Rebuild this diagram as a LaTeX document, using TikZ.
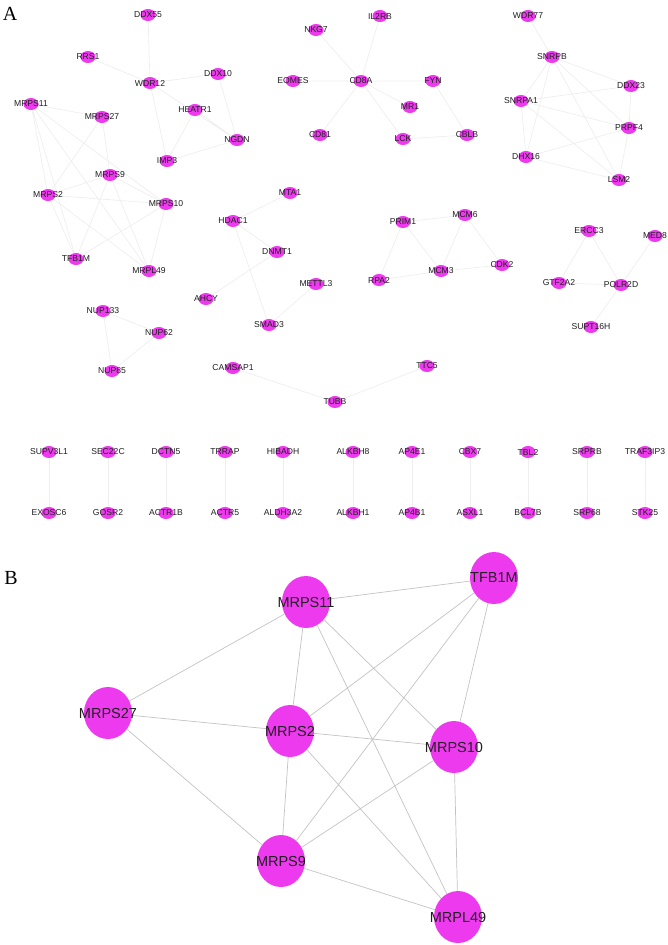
\documentclass[tikz,border=0pt]{standalone}
\usepackage{fontspec}
\setmainfont{Liberation Serif}
\setsansfont{Liberation Sans}
\usetikzlibrary{shapes.geometric,backgrounds}

\definecolor{genepink}{RGB}{238,58,238}
\definecolor{edgefaint}{RGB}{238,238,238}
\definecolor{edgegray}{RGB}{195,195,195}

\tikzset{
  gene/.style={ellipse, fill=genepink, minimum width=15pt, minimum height=12pt, inner sep=0pt,
    label={[font=\sffamily\fontsize{8.6}{9}\selectfont, text=black!88, inner sep=0pt]center:#1}},
  hub/.style={ellipse, fill=genepink, minimum width=48pt, minimum height=52pt, inner sep=0pt,
    label={[font=\sffamily\fontsize{14.5}{16}\selectfont, text=black!88, inner sep=0pt]center:#1}},
  link/.style={draw=edgefaint, line width=0.7pt},
  hublink/.style={draw=edgegray, line width=0.7pt},
  panel/.style={font=\fontsize{20}{22}\selectfont, inner sep=0pt}
}

\begin{document}
\begin{tikzpicture}[x=1pt, y=-1pt]
  \useasboundingbox (0,0) rectangle (667,945);

  % 1. 面板标签
  \node[panel] (labA) at (10,14) {A};
  \node[panel] (labB) at (11,578) {B};

  % 2. A: 核糖体组装模块
  \node[gene=DDX55]  (DDX55)  at (148,15)  {};
  \node[gene=RRS1]   (RRS1)   at (88,57)   {};
  \node[gene=WDR12]  (WDR12)  at (150,83)  {};
  \node[gene=DDX10]  (DDX10)  at (218,74)  {};
  \node[gene=HEATR1] (HEATR1) at (195,110) {};
  \node[gene=NGDN]   (NGDN)   at (237,140) {};
  \node[gene=IMP3]   (IMP3)   at (167,161) {};

  % 3. A: 线粒体核糖体模块
  \node[gene=MRPS11] (MRPS11) at (31,104)  {};
  \node[gene=MRPS27] (MRPS27) at (102,117) {};
  \node[gene=MRPS9]  (MRPS9)  at (110,175) {};
  \node[gene=MRPS2]  (MRPS2)  at (48,195)  {};
  \node[gene=MRPS10] (MRPS10) at (166,204) {};
  \node[gene=TFB1M]  (TFB1M)  at (76,259)  {};
  \node[gene=MRPL49] (MRPL49) at (149,271) {};

  % 4. A: CD8A 模块
  \node[gene=IL2RB] (IL2RB) at (380,16)  {};
  \node[gene=NKG7]  (NKG7)  at (316,30)  {};
  \node[gene=EOMES] (EOMES) at (293,81)  {};
  \node[gene=CD8A]  (CD8A)  at (361,81)  {};
  \node[gene=FYN]   (FYN)   at (433,81)  {};
  \node[gene=MR1]   (MR1)   at (410,107) {};
  \node[gene=CD81]  (CD81)  at (320,135) {};
  \node[gene=LCK]   (LCK)   at (403,139) {};
  \node[gene=CBLB]  (CBLB)  at (467,135) {};

  % 5. A: 剪接体模块
  \node[gene=WDR77]  (WDR77)  at (528,16)  {};
  \node[gene=SNRPB]  (SNRPB)  at (552,57)  {};
  \node[gene=DDX23]  (DDX23)  at (631,86)  {};
  \node[gene=SNRPA1] (SNRPA1) at (521,101) {};
  \node[gene=PRPF4]  (PRPF4)  at (629,128) {};
  \node[gene=DHX16]  (DHX16)  at (526,157) {};
  \node[gene=LSM2]   (LSM2)   at (619,180) {};

  % 6. A: HDAC1 / DNA 复制 / 转录 / NUP / TUBB 模块
  \node[gene=MTA1]   (MTA1)   at (290,193) {};
  \node[gene=HDAC1]  (HDAC1)  at (233,221) {};
  \node[gene=DNMT1]  (DNMT1)  at (277,252) {};
  \node[gene=METTL3] (METTL3) at (316,284) {};
  \node[gene=AHCY]   (AHCY)   at (206,299) {};
  \node[gene=SMAD3]  (SMAD3)  at (269,325) {};

  \node[gene=PRIM1] (PRIM1) at (403,222) {};
  \node[gene=MCM6]  (MCM6)  at (465,215) {};
  \node[gene=RPA2]  (RPA2)  at (379,280) {};
  \node[gene=MCM3]  (MCM3)  at (441,271) {};
  \node[gene=CDK2]  (CDK2)  at (502,265) {};

  \node[gene=ERCC3]   (ERCC3)   at (589,231) {};
  \node[gene=MED8]    (MED8)    at (655,236) {};
  \node[gene=GTF2A2]  (GTF2A2)  at (559,283) {};
  \node[gene=POLR2D]  (POLR2D)  at (621,285) {};
  \node[gene=SUPT16H] (SUPT16H) at (591,327) {};

  \node[gene=NUP133] (NUP133) at (103,311) {};
  \node[gene=NUP62]  (NUP62)  at (159,333) {};
  \node[gene=NUP85]  (NUP85)  at (112,371) {};

  \node[gene=CAMSAP1] (CAMSAP1) at (233,368) {};
  \node[gene=TTC5]    (TTC5)    at (427,366) {};
  \node[gene=TUBB]    (TUBB)    at (335,402) {};

  % 7. A: 成对节点
  \node[gene=SUPV3L1]  (SUPV3L1)  at (49,452)  {};
  \node[gene=EXOSC6]   (EXOSC6)   at (49,513)  {};
  \node[gene=SEC22C]   (SEC22C)   at (108,452) {};
  \node[gene=GOSR2]    (GOSR2)    at (108,513) {};
  \node[gene=DCTN5]    (DCTN5)    at (166,452) {};
  \node[gene=ACTR1B]   (ACTR1B)   at (166,513) {};
  \node[gene=TRRAP]    (TRRAP)    at (225,452) {};
  \node[gene=ACTR5]    (ACTR5)    at (225,513) {};
  \node[gene=HIBADH]   (HIBADH)   at (283,452) {};
  \node[gene=ALDH3A2]  (ALDH3A2)  at (283,513) {};
  \node[gene=ALKBH8]   (ALKBH8)   at (353,452) {};
  \node[gene=ALKBH1]   (ALKBH1)   at (353,513) {};
  \node[gene=AP4E1]    (AP4E1)    at (412,452) {};
  \node[gene=AP4B1]    (AP4B1)    at (412,513) {};
  \node[gene=CBX7]     (CBX7)     at (470,452) {};
  \node[gene=ASXL1]    (ASXL1)    at (470,513) {};
  \node[gene=TBL2]     (TBL2)     at (528,452) {};
  \node[gene=BCL7B]    (BCL7B)    at (528,513) {};
  \node[gene=SRPRB]    (SRPRB)    at (587,452) {};
  \node[gene=SRP68]    (SRP68)    at (587,513) {};
  \node[gene=TRAF3IP3] (TRAF3IP3) at (645,452) {};
  \node[gene=STK25]    (STK25)    at (645,513) {};

  % 8. B: 线粒体核糖体子网络
  \node[hub=TFB1M]  (bTFB1M)  at (494,578) {};
  \node[hub=MRPS11] (bMRPS11) at (306,602) {};
  \node[hub=MRPS27] (bMRPS27) at (108,713) {};
  \node[hub=MRPS2]  (bMRPS2)  at (290,731) {};
  \node[hub=MRPS10] (bMRPS10) at (454,747) {};
  \node[hub=MRPS9]  (bMRPS9)  at (281,861) {};
  \node[hub=MRPL49] (bMRPL49) at (458,917) {};

  % 9. 连线 (置于底层)
  \begin{scope}[on background layer]
    \draw[link] (DDX55) -- (WDR12) (RRS1) -- (WDR12) (WDR12) -- (DDX10)
      (WDR12) -- (IMP3) (WDR12) -- (NGDN) (HEATR1) -- (IMP3) (HEATR1) -- (NGDN)
      (DDX10) -- (NGDN) (IMP3) -- (NGDN);
    \draw[link] (MRPS11) -- (TFB1M) (MRPS11) -- (MRPS27) (MRPS11) -- (MRPS2)
      (MRPS11) -- (MRPS10) (MRPS11) -- (MRPL49) (TFB1M) -- (MRPS2)
      (TFB1M) -- (MRPS9) (TFB1M) -- (MRPS10) (MRPS27) -- (MRPS2)
      (MRPS27) -- (MRPS9) (MRPS2) -- (MRPS10) (MRPS2) -- (MRPS9)
      (MRPS2) -- (MRPL49) (MRPS10) -- (MRPS9) (MRPS10) -- (MRPL49)
      (MRPS9) -- (MRPL49);
    \draw[link] (NKG7) -- (CD8A) (IL2RB) -- (CD8A) (EOMES) -- (CD8A)
      (CD8A) -- (FYN) (CD8A) -- (MR1) (CD8A) -- (LCK) (CD8A) -- (CD81)
      (LCK) -- (CBLB) (FYN) -- (CBLB);
    \draw[link] (WDR77) -- (SNRPB) (SNRPB) -- (SNRPA1) (SNRPB) -- (DDX23)
      (SNRPB) -- (PRPF4) (SNRPB) -- (DHX16) (SNRPB) -- (LSM2)
      (SNRPA1) -- (DDX23) (SNRPA1) -- (PRPF4) (SNRPA1) -- (DHX16)
      (SNRPA1) -- (LSM2) (DDX23) -- (PRPF4) (PRPF4) -- (DHX16)
      (PRPF4) -- (LSM2) (DHX16) -- (LSM2);
    \draw[link] (MTA1) -- (HDAC1) (HDAC1) -- (DNMT1) (HDAC1) -- (SMAD3)
      (DNMT1) -- (AHCY) (METTL3) -- (SMAD3);
    \draw[link] (PRIM1) -- (MCM6) (PRIM1) -- (RPA2) (PRIM1) -- (MCM3)
      (RPA2) -- (MCM3) (MCM6) -- (MCM3) (MCM6) -- (CDK2) (MCM3) -- (CDK2);
    \draw[link] (ERCC3) -- (GTF2A2) (ERCC3) -- (POLR2D) (MED8) -- (POLR2D)
      (GTF2A2) -- (POLR2D) (POLR2D) -- (SUPT16H);
    \draw[link] (NUP133) -- (NUP62) (NUP133) -- (NUP85) (NUP62) -- (NUP85)
      (CAMSAP1) -- (TUBB) (TTC5) -- (TUBB);
    \draw[link] (SUPV3L1) -- (EXOSC6) (SEC22C) -- (GOSR2) (DCTN5) -- (ACTR1B)
      (TRRAP) -- (ACTR5) (HIBADH) -- (ALDH3A2) (ALKBH8) -- (ALKBH1)
      (AP4E1) -- (AP4B1) (CBX7) -- (ASXL1) (TBL2) -- (BCL7B)
      (SRPRB) -- (SRP68) (TRAF3IP3) -- (STK25);

    \draw[hublink] (bMRPS11) -- (bTFB1M) (bMRPS11) -- (bMRPS27) (bMRPS11) -- (bMRPS2)
      (bMRPS11) -- (bMRPS10) (bMRPS11) -- (bMRPL49) (bTFB1M) -- (bMRPS2)
      (bTFB1M) -- (bMRPS9) (bTFB1M) -- (bMRPS10) (bMRPS27) -- (bMRPS2)
      (bMRPS27) -- (bMRPS9) (bMRPS2) -- (bMRPS10) (bMRPS2) -- (bMRPS9)
      (bMRPS2) -- (bMRPL49) (bMRPS10) -- (bMRPS9) (bMRPS10) -- (bMRPL49)
      (bMRPS9) -- (bMRPL49);
  \end{scope}
\end{tikzpicture}
\end{document}
